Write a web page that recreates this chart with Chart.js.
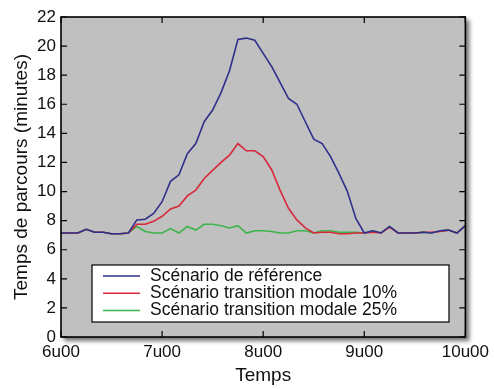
<!DOCTYPE html>
<html>
<head>
<meta charset="utf-8">
<script src="https://cdn.jsdelivr.net/npm/chart.js@4/dist/chart.umd.min.js"></script>
<style>
  body { margin: 0; background: #fff; }
  #wrap { width: 494px; height: 389px; }
</style>
</head>
<body>
<div id="wrap"><canvas id="travelChart" width="494" height="389"></canvas></div>
<script>
// minutes after 6u00
var minutes = [0, 5, 10, 15, 20, 25, 30, 35, 40, 45, 50, 55, 60, 65, 70, 75, 80, 85, 90, 95,
  100, 105, 110, 115, 120, 125, 130, 135, 140, 145, 150, 155, 160, 165, 170, 175, 180, 185, 190, 195,
  200, 205, 210, 215, 220, 225, 230, 235, 240];
var hourLabels = ["6u00", "7u00", "8u00", "9u00", "10u00"];
var yTicks = [0, 2, 4, 6, 8, 10, 12, 14, 16, 18, 20, 22];

var seriesNames = [
  "Scénario de référence",
  "Scénario transition modale 10%",
  "Scénario transition modale 25%"
];

var reference = [7.15, 7.15, 7.15, 7.4, 7.2, 7.2, 7.1, 7.1, 7.15, 8.05, 8.1, 8.5, 9.3, 10.7, 11.15, 12.6, 13.3, 14.8, 15.6, 16.8,
  18.3, 20.45, 20.55, 20.4, 19.5, 18.6, 17.5, 16.4, 16.0, 14.8, 13.6, 13.3, 12.4, 11.25, 10.0, 8.15, 7.15, 7.3, 7.15, 7.6,
  7.15, 7.15, 7.15, 7.2, 7.15, 7.3, 7.35, 7.15, 7.65];
var modal10 = [7.15, 7.15, 7.15, 7.4, 7.2, 7.2, 7.1, 7.1, 7.15, 7.75, 7.75, 7.95, 8.3, 8.8, 9.0, 9.7, 10.1, 10.9, 11.45, 12.0,
  12.5, 13.3, 12.8, 12.8, 12.4, 11.5, 10.1, 8.85, 8.05, 7.5, 7.15, 7.2, 7.2, 7.1, 7.1, 7.15, 7.15, 7.2, 7.15, 7.55,
  7.15, 7.15, 7.15, 7.2, 7.2, 7.25, 7.35, 7.15, 7.65];
var modal25 = [7.15, 7.15, 7.15, 7.4, 7.2, 7.2, 7.1, 7.1, 7.15, 7.6, 7.25, 7.15, 7.15, 7.45, 7.15, 7.6, 7.35, 7.75, 7.75, 7.65,
  7.5, 7.65, 7.15, 7.3, 7.3, 7.25, 7.15, 7.15, 7.3, 7.3, 7.15, 7.3, 7.3, 7.2, 7.2, 7.2, 7.15, 7.3, 7.15, 7.6,
  7.15, 7.15, 7.15, 7.2, 7.15, 7.3, 7.35, 7.15, 7.65];

var colors = ["#30308c", "#d8283c", "#3cb44a"];
var fontFam = "'Liberation Sans', Arial, sans-serif";

function pts(vals) {
  return vals.map(function (v, i) { return { x: minutes[i], y: v }; });
}

// background, shadow, frame, inside ticks and legend box
var framePlugin = {
  id: "frame",
  beforeDatasetsDraw: function (chart) {
    var a = chart.chartArea, c = chart.ctx;
    c.save();
    c.fillStyle = "rgba(0,0,0,0.55)";
    c.filter = "blur(2px)";
    c.fillRect(a.left + 3, a.top + 3, a.right - a.left + 1, a.bottom - a.top + 1);
    c.filter = "none";
    c.fillStyle = "#c0c0c0";
    c.fillRect(a.left, a.top, a.right - a.left, a.bottom - a.top);
    c.restore();
  },
  afterDraw: function (chart) {
    var a = chart.chartArea, c = chart.ctx;
    var xs = chart.scales.x, ys = chart.scales.y;
    c.save();
    c.strokeStyle = "#000";
    c.lineWidth = 1.2;
    hourLabels.forEach(function (h, i) {
      var px = xs.getPixelForValue(i * 60);
      c.beginPath();
      c.moveTo(px, a.bottom); c.lineTo(px, a.bottom - 6);
      c.moveTo(px, a.top); c.lineTo(px, a.top + 6);
      c.stroke();
    });
    yTicks.forEach(function (t) {
      var py = ys.getPixelForValue(t);
      c.beginPath();
      c.moveTo(a.left, py); c.lineTo(a.left + 6, py);
      c.moveTo(a.right, py); c.lineTo(a.right - 6, py);
      c.stroke();
    });
    c.lineWidth = 1.6;
    c.strokeRect(a.left, a.top, a.right - a.left, a.bottom - a.top);

    // legend
    var lx = 92, ly = 265, lw = 357, lh = 57;
    c.fillStyle = "#fff";
    c.fillRect(lx, ly, lw, lh);
    c.lineWidth = 1.2;
    c.strokeRect(lx, ly, lw, lh);
    c.font = "17.5px " + fontFam;
    c.textBaseline = "middle";
    chart.data.datasets.forEach(function (ds, i) {
      var y = ly + 11 + i * 17.3;
      c.strokeStyle = ds.borderColor;
      c.lineWidth = 1.5;
      c.beginPath();
      c.moveTo(lx + 11, y); c.lineTo(lx + 48, y);
      c.stroke();
      c.fillStyle = "#111";
      c.fillText(ds.label, lx + 58, y);
    });
    c.restore();
  }
};

var ctx = document.getElementById("travelChart").getContext("2d");
var travelChart = new Chart(ctx, {
  type: "line",
  data: {
    datasets: [
      { label: seriesNames[0], data: pts(reference), borderColor: colors[0] },
      { label: seriesNames[1], data: pts(modal10), borderColor: colors[1] },
      { label: seriesNames[2], data: pts(modal25), borderColor: colors[2] }
    ]
  },
  options: {
    responsive: false,
    animation: false,
    layout: { padding: { top: 17, right: 27, left: 0, bottom: 0 } },
    elements: {
      point: { radius: 0 },
      line: { borderWidth: 1.6, tension: 0 }
    },
    plugins: {
      legend: { display: false },
      tooltip: { enabled: false }
    },
    scales: {
      x: {
        type: "linear",
        min: 0,
        max: 240,
        afterFit: function (s) { s.height = 52; },
        afterBuildTicks: function (s) {
          s.ticks = hourLabels.map(function (h, i) { return { value: i * 60 }; });
        },
        grid: { display: false, drawTicks: false },
        border: { display: false },
        ticks: {
          padding: 5,
          maxRotation: 0,
          color: "#111",
          font: { family: fontFam, size: 17 },
          callback: function (v) { return hourLabels[v / 60]; }
        },
        title: {
          display: true,
          text: "Temps",
          color: "#111",
          font: { family: fontFam, size: 19 },
          padding: { top: 0, bottom: 2 }
        }
      },
      y: {
        min: 0,
        max: 22,
        afterFit: function (s) { s.width = 61; },
        afterBuildTicks: function (s) {
          s.ticks = yTicks.map(function (t) { return { value: t }; });
        },
        grid: { display: false, drawTicks: false },
        border: { display: false },
        ticks: {
          padding: 5,
          color: "#111",
          font: { family: fontFam, size: 17 }
        },
        title: {
          display: true,
          text: "Temps de parcours (minutes)",
          color: "#111",
          font: { family: fontFam, size: 19 },
          padding: { top: 10, bottom: 0 }
        }
      }
    }
  },
  plugins: [framePlugin]
});
</script>
</body>
</html>
